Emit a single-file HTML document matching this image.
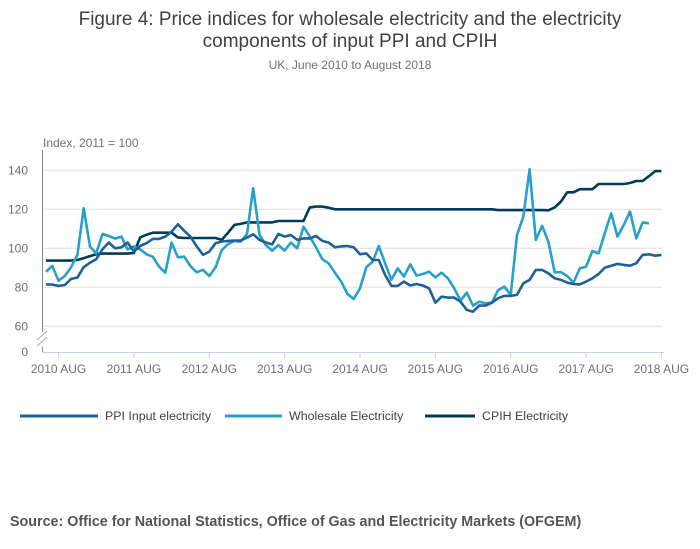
<!DOCTYPE html>
<html><head><meta charset="utf-8"><style>
body{margin:0;background:#fff;font-family:"Liberation Sans",sans-serif}
#wrap{position:relative;width:700px;height:549px;overflow:hidden}
</style></head><body>
<div id="wrap">
<svg id="chart" width="700" height="549" font-family="Liberation Sans, sans-serif">
<text x="350" y="25" text-anchor="middle" font-size="19" fill="#414042">Figure 4: Price indices for wholesale electricity and the electricity</text>
<text x="350" y="47" text-anchor="middle" font-size="19" fill="#414042">components of input PPI and CPIH</text>
<text x="350" y="69" text-anchor="middle" font-size="12" fill="#707070">UK, June 2010 to August 2018</text>
<text x="43" y="147" font-size="12" fill="#707070">Index, 2011 = 100</text>
<g id="grid"></g><g id="axes"></g><g id="series"></g>
<g>
<g><line x1="20" y1="416" x2="98" y2="416" stroke="#206095" stroke-width="3"/><text x="105" y="420" font-size="12.4" fill="#414042">PPI Input electricity</text></g>
<g><line x1="225" y1="416" x2="282" y2="416" stroke="#27a0cc" stroke-width="3"/><text x="289" y="420" font-size="12.4" fill="#414042">Wholesale Electricity</text></g>
<g><line x1="425" y1="416" x2="475" y2="416" stroke="#003c57" stroke-width="3"/><text x="482" y="420" font-size="12.4" fill="#414042">CPIH Electricity</text></g>
</g>
<text x="10" y="526" font-size="14.3" font-weight="bold" fill="#555">Source: Office for National Statistics, Office of Gas and Electricity Markets (OFGEM)</text>
</svg>
</div>
<script>
const xTickLabels=["2010 AUG","2011 AUG","2012 AUG","2013 AUG","2014 AUG","2015 AUG","2016 AUG","2017 AUG","2018 AUG"];
const yTicks=[60,80,100,120,140];
const ppi=[81.5,81.4,80.7,81.2,84.3,85,90.3,92.6,94.4,99.5,103,100,100.5,103,98.3,101.2,102.6,104.8,104.8,106,108.5,112.3,109,106,101,96.6,98.3,102.6,103.5,103.8,104,104,105.5,107.2,104.3,103,102,107.4,106,106.8,104.3,105.1,105.1,106.3,103.8,102.9,100.5,101,101.2,100.5,97,97.4,94,94,86.3,80.7,80.7,82.9,80.9,81.7,80.9,79.5,72.1,75.2,74.7,74.7,72.6,68.4,67.5,70.6,70.6,72.1,74.4,75.6,75.6,76.1,82,83.8,88.9,88.9,87.2,84.6,83.8,82.4,81.7,81.5,82.9,84.6,86.8,90.1,91.1,92,91.5,91.1,92.3,96.6,96.9,96.2,96.6];
const wholesale=[88,90.9,83.4,85.8,90.3,96.6,120.5,100.9,97.4,107.4,106.3,105,106,99.5,100.9,99.5,96.9,95.7,90.6,87.5,102.9,95.4,95.7,90.9,87.7,88.9,85.8,90.3,99.1,102.2,103.8,103.4,107.4,130.8,106.8,101.7,98.8,101.7,98.8,102.9,100,111.1,106,100.5,94.4,92.3,87.5,82.9,76.6,74,79.5,90.3,93.2,101.2,92.3,83.8,89.7,85.5,91.8,86,86.8,88,85.1,87.5,84.6,79.5,73.2,77.3,70.6,72.6,71.8,72.1,78.6,80.3,76.1,106.8,116.2,140.5,104.3,111.5,103.4,87.7,87.7,85.8,82.4,89.7,90.6,98.6,97.4,108,117.9,106,112,118.8,105.1,113.2,112.8];
const cpih=[93.7,93.7,93.7,93.7,93.7,94,95,96,97,97.3,97.3,97.3,97.3,97.3,97.6,105.6,107,108,108,108,108,105.6,105.3,105.3,105.3,105.3,105.3,105.3,104.3,108,112,112.5,113.3,113.3,113.3,113.3,113.3,114,114,114,114,114,121,121.4,121.4,120.8,120,120,120,120,120,120,120,120,120,120,120,120,120,120,120,120,120,120,120,120,120,120,120,120,120,120,119.6,119.6,119.6,119.6,119.6,119.6,119.6,119.6,119.5,121,124,128.7,128.7,130.3,130.3,130.3,133,133,133,133,133,133.5,134.5,134.5,137,139.6,139.6];
const NS="http://www.w3.org/2000/svg";
const x=i=>46+i*6.28;
const y=v=>248.3-(v-100)*1.95;
function mk(tag,attrs,parent){const e=document.createElementNS(NS,tag);for(const k in attrs)e.setAttribute(k,attrs[k]);parent.appendChild(e);return e;}
const grid=document.getElementById('grid'),axes=document.getElementById('axes'),ser=document.getElementById('series');
yTicks.forEach(v=>{
 const l=mk('line',{x1:43,x2:662,y1:y(v),y2:y(v),stroke:'#e0e0e0','stroke-width':1},grid);
 
 
 const t=mk('text',{x:28,y:y(v)+4,'text-anchor':'end','font-size':12,fill:'#707070'},axes);t.textContent=v;
 
 
});
const z=mk('text',{x:28,y:356,'text-anchor':'end','font-size':12,fill:'#707070'},axes);z.textContent='0';


const ya=mk('path',{d:'M42.5 150V332M42.5 347V352',stroke:'#888',fill:'none'},axes);


const br=mk('path',{d:'M37 340L47 331M37 346L47 337',stroke:'#aaa',fill:'none'},axes);


const xa=mk('line',{x1:42,x2:664,y1:352.5,y2:352.5,stroke:'#c5d2e8'},axes);


xTickLabels.forEach((s,k)=>{
 const xx=x(2+12*k);
 mk('line',{x1:xx,x2:xx,y1:352,y2:358,stroke:'#c5d2e8'},axes);
 const t=mk('text',{x:xx,y:373,'text-anchor':'middle','font-size':12,fill:'#707070'},axes);t.textContent=s;
 
 
});
function line(arr,col,name){
 const d=arr.map((v,i)=>(i?'L':'M')+x(i).toFixed(1)+' '+y(v).toFixed(1)).join('');
 const p=mk('path',{d:d,stroke:col,'stroke-width':2.6,fill:'none','stroke-linejoin':'round'},ser);
 
 
}
line(cpih,'#003c57','cpih-line');
line(wholesale,'#27a0cc','wholesale-line');
line(ppi,'#206095','ppi-line');
</script>
</body></html>
